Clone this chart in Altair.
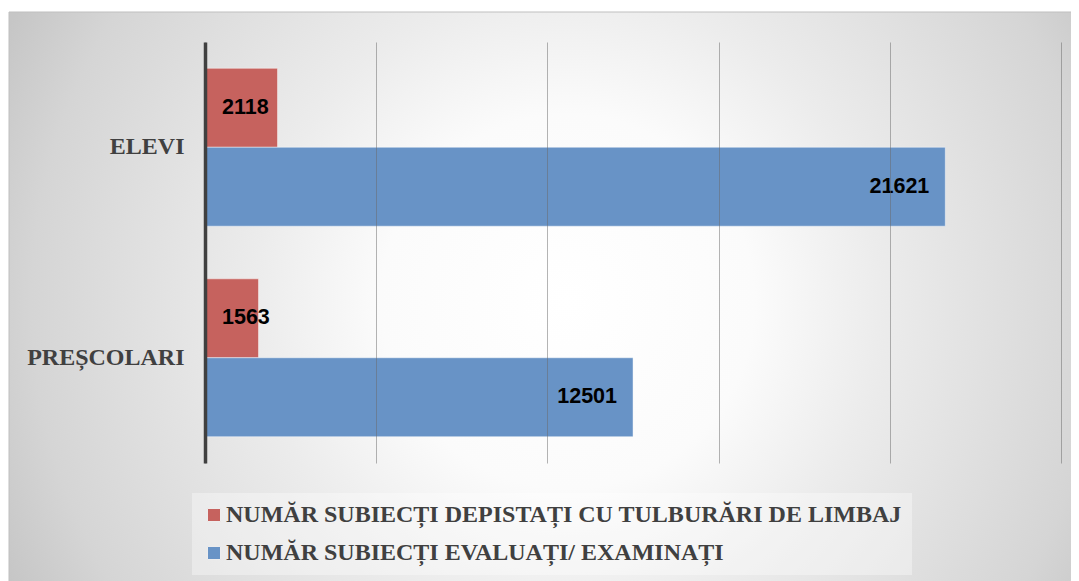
import altair as alt
import pandas as pd

categories = ["ELEVI", "PREȘCOLARI"]
series = [
    "NUMĂR SUBIECȚI DEPISTAȚI CU TULBURĂRI DE LIMBAJ",
    "NUMĂR SUBIECȚI EVALUAȚI/ EXAMINAȚI",
]
depistati = [2118, 1563]
evaluati = [21621, 12501]
colors = ["#c6625e", "#6893c6"]
x_ticks = [0, 5000, 10000, 15000, 20000, 25000]

rows = []
for i, c in enumerate(categories):
    rows.append({"cat": c, "serie": series[0], "val": depistati[i]})
    rows.append({"cat": c, "serie": series[1], "val": evaluati[i]})
df = pd.DataFrame(rows)

W, H = 856, 421
PL, PT, PR, PB = 197, 34, 10, 118

gradient = alt.RadialGradient(
    gradient="radial",
    stops=[
        alt.GradientStop(offset=0, color="#ffffff"),
        alt.GradientStop(offset=0.3, color="#fbfbfb"),
        alt.GradientStop(offset=0.5, color="#ececec"),
        alt.GradientStop(offset=0.86, color="#d5d5d5"),
        alt.GradientStop(offset=1, color="#c6c6c6"),
    ],
    x1=0.52, y1=0.5, r1=0, x2=0.52, y2=0.5, r2=0.58,
)

bg = alt.Chart(pd.DataFrame({"k": [0]})).mark_rect(
    fill=gradient, stroke="#bfbfbf", strokeWidth=1
).encode(
    x=alt.value(-196), x2=alt.value(W + PR + 12),
    y=alt.value(-30), y2=alt.value(H + PB + 10),
)

y_enc = alt.Y(
    "cat:N", sort=categories,
    scale=alt.Scale(paddingInner=0.25, paddingOuter=0.125),
    axis=alt.Axis(
        title=None, ticks=False, labelPadding=21,
        labelFont="Liberation Serif", labelFontWeight="bold", labelFontSize=24,
        labelColor="#404040", domainColor="#404040", domainWidth=3.5,
        grid=False, zindex=1,
    ),
)
yoff = alt.YOffset("serie:N", sort=series, scale=alt.Scale(paddingInner=0, paddingOuter=0))
x_enc = alt.X(
    "val:Q", scale=alt.Scale(domain=[0, 25000], nice=False),
    axis=alt.Axis(
        title=None, values=x_ticks, labels=False, ticks=False, domain=False,
        grid=True, gridColor="#6a6a6a", gridOpacity=0.5, gridWidth=1, zindex=1,
    ),
)

bars = alt.Chart(df).mark_bar(
    stroke="#ffffff", strokeOpacity=0.45, strokeWidth=1
).encode(
    y=y_enc, yOffset=yoff, x=x_enc,
    color=alt.Color(
        "serie:N",
        scale=alt.Scale(domain=series, range=colors),
        legend=alt.Legend(
            title=None, orient="none", legendX=-13, legendY=451,
            direction="vertical",
            labelFont="Liberation Serif", labelFontWeight="bold", labelFontSize=24,
            labelColor="#404040", labelLimit=1000, labelOffset=0,
            symbolType="square", symbolSize=170, symbolStrokeColor="#eeeeee",
            symbolStrokeWidth=1, symbolOpacity=1,
            rowPadding=14, padding=10, fillColor="rgba(255,255,255,0.35)",
        ),
    ),
)

txt_red = alt.Chart(df).transform_filter(
    alt.datum.serie == series[0]
).mark_text(
    align="left", baseline="middle", dx=17,
    font="Liberation Sans", fontWeight="bold", fontSize=21.5, color="#000000",
).encode(
    y=alt.Y("cat:N", sort=categories), yOffset=alt.YOffset("serie:N", sort=series),
    x=alt.datum(0), text=alt.Text("val:Q", format="d"),
)

txt_blue = alt.Chart(df).transform_filter(
    alt.datum.serie == series[1]
).mark_text(
    align="right", baseline="middle", dx=-16,
    font="Liberation Sans", fontWeight="bold", fontSize=21.5, color="#000000",
).encode(
    y=alt.Y("cat:N", sort=categories), yOffset=alt.YOffset("serie:N", sort=series),
    x=alt.X("val:Q"), text=alt.Text("val:Q", format="d"),
)

chart = alt.layer(bg, bars, txt_red, txt_blue).properties(
    width=W, height=H,
    padding={"left": PL, "top": PT, "right": PR, "bottom": PB},
    autosize=alt.AutoSizeParams(type="none"),
    background="white",
).configure_view(stroke=None)

chart.save("out.html", embed_options={"renderer": "svg", "actions": False})
